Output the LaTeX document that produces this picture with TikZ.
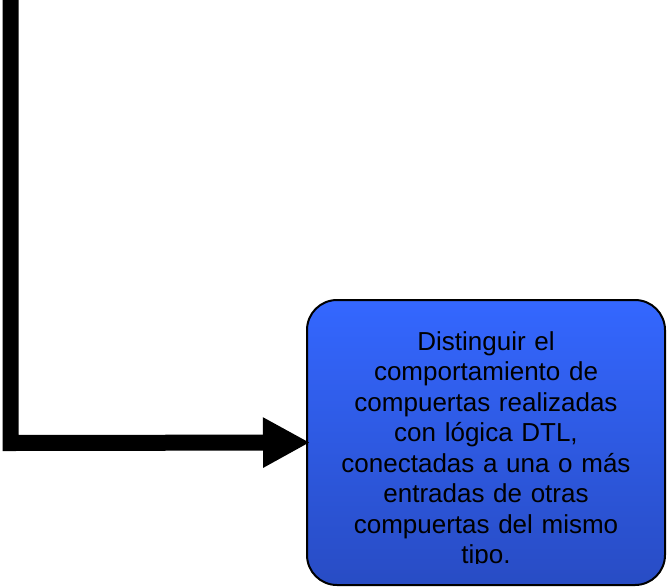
\documentclass[tikz,border=0pt]{standalone}
\usepackage{fontspec}
\setmainfont{Liberation Sans}
\usetikzlibrary{arrows.meta}
\definecolor{boxtop}{RGB}{52,103,255}
\definecolor{boxbot}{RGB}{40,76,196}
\tikzset{
  goalbox/.style={draw=black, line width=2pt, rounded corners=30pt, top color=boxtop, bottom color=boxbot, minimum width=358pt, minimum height=285pt, inner sep=0pt},
  goaltext/.style={text width=340pt, align=center, inner sep=0pt, font=\fontsize{26pt}{30.5pt}\selectfont},
  bigarrow/.style={line width=16pt, line join=miter, -{Triangle[length=47pt,width=47pt]}}
}
\begin{document}
\begin{tikzpicture}[x=1pt,y=-1pt]
\useasboundingbox (0,0) rectangle (669,587);
\node[goalbox] (goal) at (486,442.5) {};
\coordinate (start) at (10.5,0);
\coordinate (bend) at (10.5,443);
\draw[bigarrow] (start) -- (bend) -- ([xshift=4pt]goal.west);
\begin{scope}
\clip (307,300) rectangle (665,563.5);
\node[goaltext] (label) at (486,450.5) {Distinguir el\\ comportamiento de\\ compuertas realizadas\\ con lógica DTL,\\ conectadas a una o más\\ entradas de otras\\ compuertas del mismo\\ tipo.};
\end{scope}
\end{tikzpicture}
\end{document}
